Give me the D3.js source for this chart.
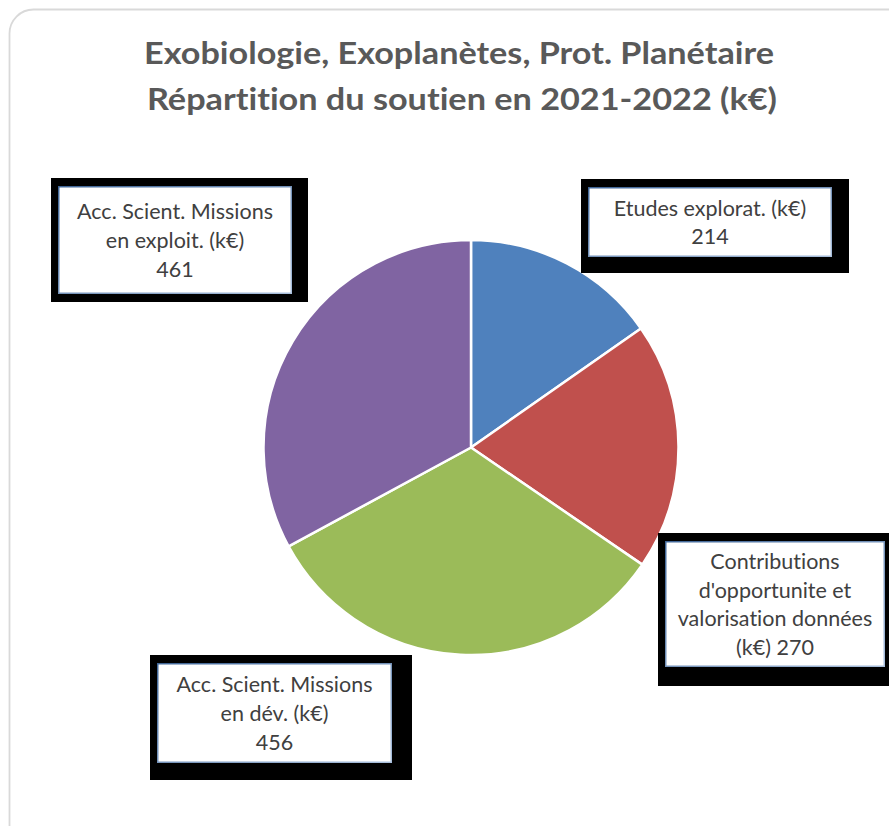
<!DOCTYPE html>
<html>
<head>
<meta charset="utf-8">
<script src="https://cdn.jsdelivr.net/npm/d3@7"></script>
<style>
  html, body { margin: 0; padding: 0; background: #fff; }
  svg { display: block; }
  text { font-variant-ligatures: none; font-feature-settings: "liga" 0, "clig" 0; }
</style>
</head>
<body>
<script>
// ---- DATA ----
const titleLines = ["Exobiologie, Exoplanètes, Prot. Planétaire", "Répartition du soutien en 2021-2022 (k€)"];
const categories = [
  "Etudes explorat. (k€)",
  "Contributions\nd'opportunite et\nvalorisation données\n(k€)",
  "Acc. Scient. Missions\nen dév. (k€)",
  "Acc. Scient. Missions\nen exploit. (k€)"
];
const values = [214, 270, 456, 461];
const valueSeparators = ["\n", " ", "\n", "\n"];
const colors = ["#4F81BD", "#C0504D", "#9BBB59", "#8064A2"];

// ---- LAYOUT ----
const W = 889, H = 826;
const center = [471, 447.5];
const radius = 207.5;
// white label boxes [x0, y0, x1, y1] and black backing [x0, y0, x1, y1]
const labelBoxes = [
  { box: [588, 187, 832, 257], back: [581, 179, 849, 273] },
  { box: [665, 541, 885, 667], back: [658, 533, 890, 686] },
  { box: [157, 663, 392, 763], back: [150, 655, 412, 780] },
  { box: [58, 186, 292, 294], back: [51, 178, 308, 302] }
];
const titleSpans = [[144, 774, 64], [147, 777, 110]];

const svg = d3.select("body").append("svg").attr("width", W).attr("height", H);

// outer rounded border
svg.append("rect")
  .attr("x", 9.5).attr("y", 9.5)
  .attr("width", W + 30).attr("height", H + 30)
  .attr("rx", 24).attr("ry", 24)
  .attr("fill", "#fff")
  .attr("stroke", "#d9d9d9").attr("stroke-width", 1.8);

// title
const title = svg.append("g");
titleLines.forEach((t, i) => {
  const [x0, x1, y] = titleSpans[i];
  title.append("text")
    .attr("x", x0).attr("y", y)
    .attr("textLength", x1 - x0)
    .attr("lengthAdjust", "spacingAndGlyphs")
    .attr("font-family", "Lato, 'Open Sans', sans-serif")
    .attr("font-weight", "bold")
    .attr("font-size", 31)
    .attr("fill", "#595959")
    .text(t);
});

// pie
const pie = d3.pie().sort(null).value(d => d.value).startAngle(0).endAngle(2 * Math.PI);
const arc = d3.arc().innerRadius(0).outerRadius(radius);
const data = values.map((v, i) => ({ value: v, name: categories[i], color: colors[i], sep: valueSeparators[i] }));

const g = svg.append("g").attr("transform", `translate(${center[0]},${center[1]})`);
g.selectAll("path.slice").data(pie(data)).enter().append("path")
  .attr("class", "slice")
  .attr("d", arc)
  .attr("fill", d => d.data.color)
  .attr("stroke", "#fff")
  .attr("stroke-width", 2.5)
  .attr("stroke-linejoin", "round");

// labels
const defs = svg.append("defs");
const grad = defs.append("linearGradient").attr("id", "bordGrad")
  .attr("x1", "0").attr("y1", "0").attr("x2", "1").attr("y2", "1");
grad.append("stop").attr("offset", "0").attr("stop-color", "#3f6596");
grad.append("stop").attr("offset", "1").attr("stop-color", "#a9bfdc");

const labels = svg.append("g");
data.forEach((d, i) => {
  const L = labelBoxes[i];
  const [bx0, by0, bx1, by1] = L.back;
  const [x0, y0, x1, y1] = L.box;
  labels.append("rect")
    .attr("x", bx0).attr("y", by0).attr("width", bx1 - bx0).attr("height", by1 - by0)
    .attr("fill", "#000");
  labels.append("rect")
    .attr("x", x0 + 0.75).attr("y", y0 + 0.75).attr("width", x1 - x0 - 1.5).attr("height", y1 - y0 - 1.5)
    .attr("fill", "#fff")
    .attr("stroke", "url(#bordGrad)").attr("stroke-width", 1.5);
  const lines = (d.name + d.sep + d.value).split("\n");
  const lh = 28.8;
  const cx = (x0 + x1) / 2;
  const cy = (y0 + y1) / 2;
  const firstBase = cy - (lines.length - 1) * lh / 2 + 8;
  const t = labels.append("text")
    .attr("text-anchor", "middle")
    .attr("font-family", "Lato, 'Open Sans', sans-serif")
    .attr("font-size", 21.5)
    .attr("fill", "#404040");
  lines.forEach((ln, j) => {
    t.append("tspan").attr("x", cx).attr("y", firstBase + j * lh).text(ln);
  });
});
</script>
</body>
</html>
